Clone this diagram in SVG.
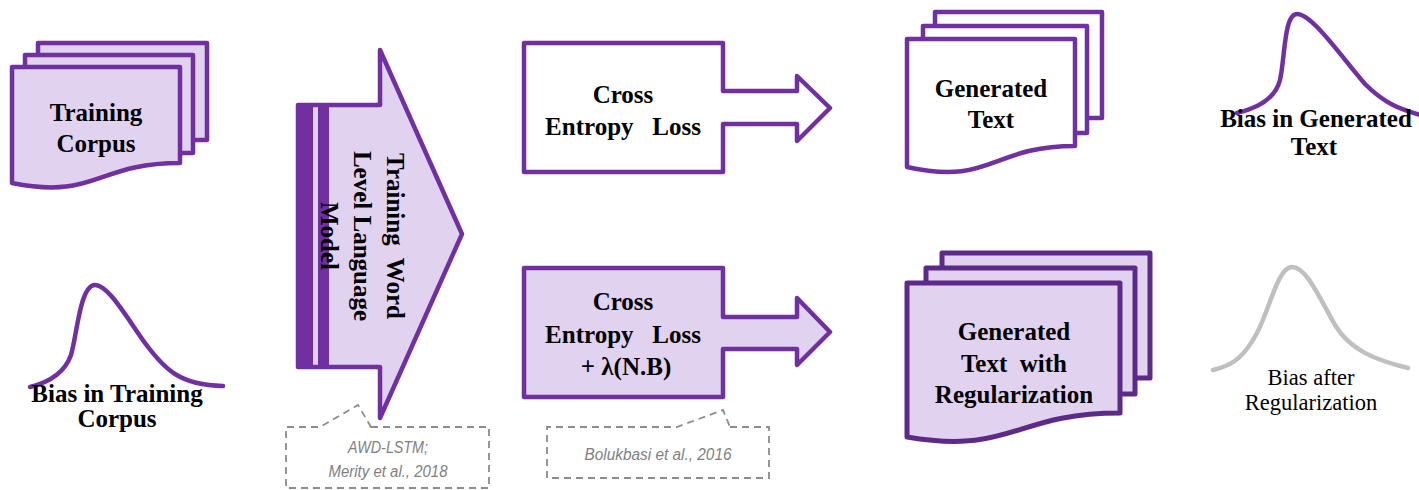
<svg xmlns="http://www.w3.org/2000/svg" width="1419" height="490" viewBox="0 0 1419 490">
  <style>
    .doc { stroke: #7030A0; stroke-width: 4.5; stroke-linejoin: round; }
    .docDark { stroke: #5C2A88; stroke-width: 5; stroke-linejoin: round; }
    .lav { fill: #E1D2F0; }
    .wht { fill: #FFFFFF; }
    .shape { stroke: #7030A0; stroke-width: 4.5; stroke-linejoin: round; }
    .curve { fill: none; stroke: #7030A0; stroke-width: 4.5; stroke-linecap: round; }
    .curveGray { fill: none; stroke: #BFBFBF; stroke-width: 4.5; stroke-linecap: round; }
    .callout { fill: none; stroke: #8C8C8C; stroke-width: 1.8; stroke-dasharray: 7 5; }
    .lbl { font-family: "Liberation Serif", "Times New Roman", serif; font-weight: bold; font-size: 25px; fill: #000; text-anchor: middle; white-space: pre; }
    .lblReg { font-family: "Liberation Serif", "Times New Roman", serif; font-size: 22.5px; fill: #000; text-anchor: middle; }
    .cite { font-family: "Liberation Sans", Arial, sans-serif; font-style: italic; font-size: 16px; fill: #7F7F7F; text-anchor: middle; }
  </style>

  <!-- Training corpus: stacked documents -->
  <g id="training-corpus">
    <rect class="doc lav" x="38" y="43" width="169" height="97"/>
    <rect class="doc lav" x="25" y="55" width="168" height="98"/>
    <path class="doc lav" d="M12,67 H180 V163 C96,163 96,200 12,183 Z"/>
    <text class="lbl" x="96" y="121">Training</text>
    <text class="lbl" x="96" y="152">Corpus</text>
  </g>

  <!-- Bias curve of the training corpus -->
  <g id="bias-training">
    <path class="curve" d="M30,387 C50,382 65,372 71,355 C77,335 80,285 95,285 C108,285 125,315 145,343 C165,370 180,385 223,386"/>
    <text class="lbl" x="117" y="402">Bias in Training</text>
    <text class="lbl" x="117" y="427">Corpus</text>
  </g>

  <!-- Language model block arrow -->
  <g id="language-model">
    <path class="shape lav" d="M298,105 H380 V50 L462,234 L380,418 V367 H298 Z"/>
    <rect x="298" y="105" width="15" height="262" fill="#7030A0"/>
    <rect x="318" y="105" width="11" height="262" fill="#7030A0"/>
    <text class="lbl" transform="translate(387,236) rotate(90)">Training  Word</text>
    <text class="lbl" transform="translate(354,236) rotate(90)">Level Language</text>
    <text class="lbl" transform="translate(321,236) rotate(90)">Model</text>
  </g>

  <!-- Cross entropy loss -->
  <g id="cross-entropy">
    <path class="shape wht" d="M524,43 H723 V91 H797 V76 L830,108 L797,141 V124 H723 V172 H524 Z"/>
    <text class="lbl" x="623" y="103">Cross</text>
    <text class="lbl" x="623" y="135">Entropy   Loss</text>
  </g>

  <!-- Regularized loss -->
  <g id="cross-entropy-reg">
    <path class="shape lav" d="M524,268 H723 V317 H797 V298 L830,332 L797,365 V349 H723 V397 H524 Z"/>
    <text class="lbl" x="623" y="310">Cross</text>
    <text class="lbl" x="623" y="343">Entropy   Loss</text>
    <text class="lbl" x="626" y="375">+ λ(N.B)</text>
  </g>

  <!-- Generated text -->
  <g id="generated-text">
    <rect class="doc wht" x="935" y="12" width="167" height="106"/>
    <rect class="doc wht" x="923" y="26" width="164" height="107"/>
    <path class="doc wht" d="M907,39 H1075 V146 C991,146 991,186 907,167 Z"/>
    <text class="lbl" x="991" y="97">Generated</text>
    <text class="lbl" x="991" y="128">Text</text>
  </g>

  <!-- Generated text with regularization -->
  <g id="generated-text-reg">
    <rect class="docDark lav" x="942" y="253" width="208" height="125"/>
    <rect class="docDark lav" x="926" y="268" width="209" height="126"/>
    <path class="docDark lav" d="M907,283 H1120 V413 C1013,413 1013,455 907,437 Z"/>
    <text class="lbl" x="1014" y="340">Generated</text>
    <text class="lbl" x="1014" y="372">Text  with</text>
    <text class="lbl" x="1014" y="403">Regularization</text>
  </g>

  <!-- Bias curve of generated text -->
  <g id="bias-generated">
    <path class="curve" d="M1237,113 C1262,107 1276,96 1280,80 C1285,58 1284,14 1297,14 C1312,14 1340,55 1365,84 C1385,104 1400,109 1420,115"/>
    <text class="lbl" x="1316" y="127">Bias in Generated</text>
    <text class="lbl" x="1314" y="155">Text</text>
  </g>

  <!-- Bias curve after regularization -->
  <g id="bias-after">
    <path class="curveGray" d="M1213,370 C1235,365 1245,355 1257,333 C1270,308 1278,267 1292,267 C1306,267 1318,295 1335,325 C1350,350 1375,360 1408,368"/>
    <text class="lblReg" x="1311" y="385">Bias after</text>
    <text class="lblReg" x="1311" y="410">Regularization</text>
  </g>

  <!-- Reference callouts -->
  <g id="callouts">
    <path class="callout" d="M371,427 H489 V488 H286 V427 H320 L358,405 Z"/>
    <text class="cite" x="388" y="453" textLength="80" lengthAdjust="spacingAndGlyphs">AWD-LSTM;</text>
    <text class="cite" x="388" y="477" textLength="119" lengthAdjust="spacingAndGlyphs">Merity et al., 2018</text>
    <path class="callout" d="M730,427 H769 V478 H547 V427 H677 L723,410 Z"/>
    <text class="cite" x="658" y="460" textLength="147" lengthAdjust="spacingAndGlyphs">Bolukbasi  et al., 2016</text>
  </g>
</svg>
